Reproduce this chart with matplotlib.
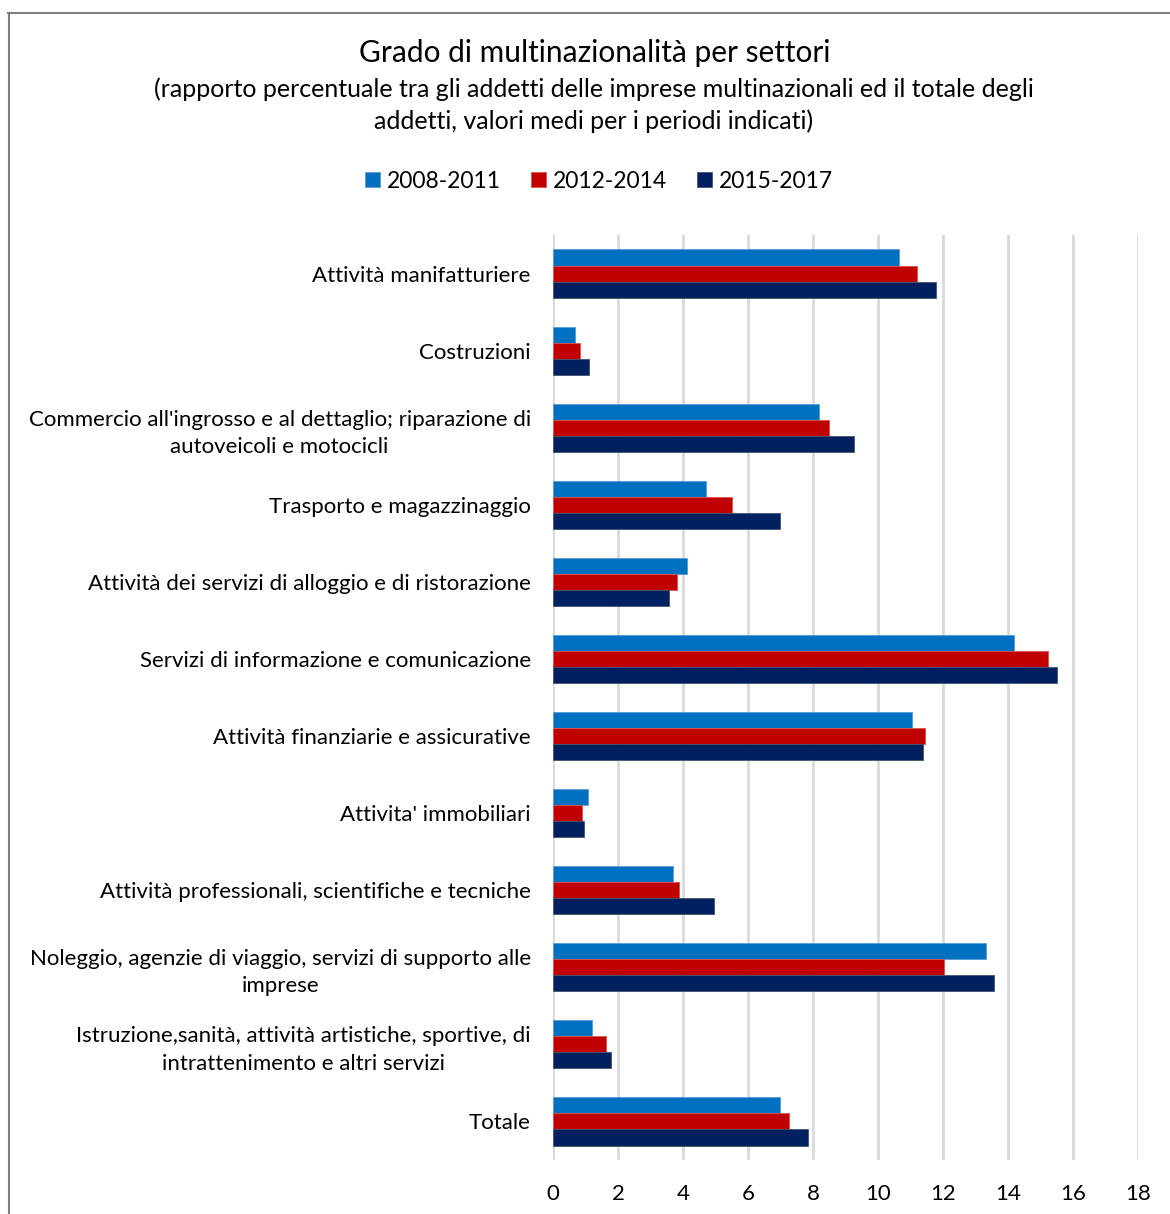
import matplotlib.pyplot as plt
from matplotlib.lines import Line2D
import numpy as np

# Chart data
categories = [
    "Attività manifatturiere",
    "Costruzioni",
    "Commercio all'ingrosso e al dettaglio; riparazione di\nautoveicoli e motocicli",
    "Trasporto e magazzinaggio",
    "Attività dei servizi di alloggio e di ristorazione",
    "Servizi di informazione e comunicazione",
    "Attività finanziarie e assicurative",
    "Attivita' immobiliari",
    "Attività professionali, scientifiche e tecniche",
    "Noleggio, agenzie di viaggio, servizi di supporto alle\nimprese",
    "Istruzione,sanità, attività artistiche, sportive, di\nintrattenimento e altri servizi",
    "Totale",
]
series_names = ["2008-2011", "2012-2014", "2015-2017"]
v_2008_2011 = [10.65, 0.68, 8.17, 4.71, 4.13, 14.19, 11.04, 1.08, 3.70, 13.31, 1.21, 6.98]
v_2012_2014 = [11.20, 0.84, 8.48, 5.50, 3.82, 15.24, 11.46, 0.88, 3.88, 12.02, 1.62, 7.27]
v_2015_2017 = [11.78, 1.12, 9.26, 6.98, 3.57, 15.51, 11.39, 0.95, 4.95, 13.57, 1.77, 7.85]
x_ticks = [0, 2, 4, 6, 8, 10, 12, 14, 16, 18]

colors = ["#0070C0", "#C00000", "#002060"]
edges = ["#5a9bd5", "#d9534f", "#44546a"]

plt.rcParams['font.family'] = ['Lato', 'DejaVu Sans']

W, H = 1170, 1214
fig = plt.figure(figsize=(W / 100, H / 100), dpi=100)

# axes placement in pixels
left, right, top, bottom = 553, 1138, 235, 1160
ax = fig.add_axes([left / W, 1 - bottom / H, (right - left) / W, (bottom - top) / H])

y = np.arange(len(categories))
bh = 0.208
all_vals = [v_2008_2011, v_2012_2014, v_2015_2017]
for i, vals in enumerate(all_vals):
    ax.barh(y + (i - 1) * bh, vals, height=bh, color=colors[i],
            edgecolor=edges[i], linewidth=0.6, label=series_names[i], zorder=3)

ax.set_xlim(0, 18)
ax.set_ylim(len(categories) - 0.5, -0.5)
ax.set_xticks(x_ticks)
ax.set_xticklabels([str(t) for t in x_ticks], fontsize=16)
ax.set_yticks(y)
ax.set_yticklabels(categories, fontsize=16, multialignment='center', linespacing=1.45)
ax.tick_params(axis='both', length=0)
ax.tick_params(axis='y', pad=16)
ax.tick_params(axis='x', pad=17)
ax.grid(axis='x', color='#d9d9d9', linewidth=2, zorder=0)
for s in ax.spines.values():
    s.set_visible(False)

# titles
fig.text(595 / W, 1 - 53 / H, "Grado di multinazionalità per settori",
         ha='center', va='center', fontsize=21.5)
fig.text(594 / W, 1 - 105 / H,
         "(rapporto percentuale tra gli addetti delle imprese multinazionali ed il totale degli\n"
         "addetti, valori medi per i periodi indicati)",
         ha='center', va='center', fontsize=18, linespacing=1.4)

fig.legend(loc='center', bbox_to_anchor=(599 / W, 1 - 181 / H), ncol=3, frameon=False,
           fontsize=16.5, handlelength=0.65, handleheight=0.65, handletextpad=0.3,
           columnspacing=1.3)

# outer chart frame (top and left edge visible)
fig.add_artist(Line2D([8 / W, 1], [1 - 12.5 / H, 1 - 12.5 / H], color='#7f7f7f', linewidth=1.5))
fig.add_artist(Line2D([8.5 / W, 8.5 / W], [0, 1 - 12.5 / H], color='#7f7f7f', linewidth=1.5))

fig.savefig("out.png", dpi=100)
